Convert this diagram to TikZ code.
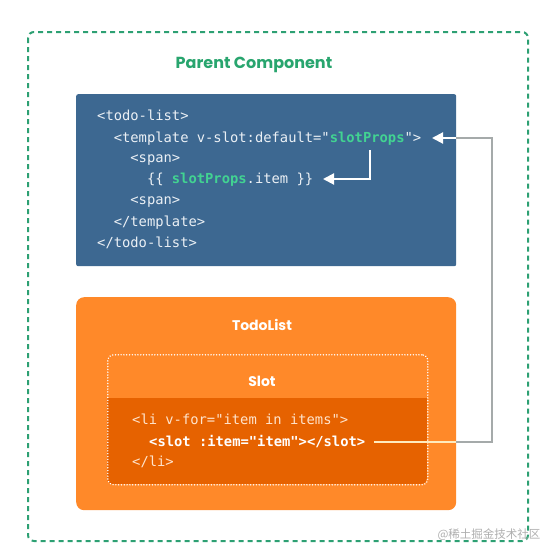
\documentclass[tikz,border=0pt]{standalone}
\usepackage{fontspec}
\setmainfont{Poppins}
\setmonofont{DejaVu Sans Mono}
\newfontfamily\cjkfont{Noto Sans CJK SC}
\usetikzlibrary{arrows.meta}
\definecolor{dashgreen}{RGB}{45,160,115}
\definecolor{titlegreen}{RGB}{40,165,110}
\definecolor{codeblue}{RGB}{61,104,145}
\definecolor{codetext}{RGB}{235,240,245}
\definecolor{propgreen}{RGB}{66,211,146}
\definecolor{orangebox}{RGB}{255,137,41}
\definecolor{darkorange}{RGB}{230,98,0}
\definecolor{orangetext}{RGB}{255,228,205}
\definecolor{connGray}{RGB}{165,170,170}
\definecolor{connLight}{RGB}{255,235,190}
\definecolor{wmgray}{RGB}{175,175,175}
\newcommand\gp[1]{\textcolor{propgreen}{\bfseries #1}}
\tikzset{
  codeline/.style={anchor=base west, inner sep=0pt, font=\ttfamily\fontsize{13.8}{16}\selectfont, text=codetext},
  orcode/.style={codeline, text=orangetext},
  tip/.style={-{Triangle[length=11pt,width=11pt]}},
  heading/.style={font=\bfseries\fontsize{14}{16}\selectfont, text=white, inner sep=0pt}
}
\begin{document}
\begin{tikzpicture}[x=1pt,y=-1pt]
\useasboundingbox (0,0) rectangle (556,557);
\fill[white] (0,0) rectangle (556,557);
% outer dashed frame
\draw[dashgreen, line width=2pt, dash pattern=on 5pt off 4pt, rounded corners=6pt] (28,32) rectangle (528,541);
\node[font=\bfseries\fontsize{16}{19}\selectfont, text=titlegreen, inner sep=0pt] (title) at (254,65) {Parent Component};
% blue code box
\node[fill=codeblue, rounded corners=2pt, minimum width=380pt, minimum height=172pt, anchor=north west, inner sep=0pt] (parent) at (76,94) {};
\node[codeline] (b1) at (97,120.5) {<todo-list>};
\node[codeline] (b2) at (113.6,142.5) {<template v-slot:default="\gp{slotProps}">};
\node[codeline] (b3) at (130.2,162.5) {<span>};
\node[codeline] (b4) at (146.8,183.5) {\{\{ \gp{slotProps}.item \}\}};
\node[codeline] (b5) at (130.2,204.5) {<span>};
\node[codeline] (b6) at (113.6,226.5) {</template>};
\node[codeline] (b7) at (97,247.5) {</todo-list>};
% orange box
\node[fill=orangebox, rounded corners=8pt, minimum width=380pt, minimum height=213pt, anchor=north west, inner sep=0pt] (todo) at (76,297) {};
\node[heading] (todotitle) at (262,325) {TodoList};
\begin{scope}
\clip[rounded corners=6pt] (107,354) rectangle (427,484);
\fill[darkorange] (107,398) rectangle (427,484);
\end{scope}
\node[draw=white, line width=1.6pt, dash pattern=on 0.01pt off 2.8pt, line cap=round, rounded corners=6pt, minimum width=320pt, minimum height=130pt, anchor=north west, inner sep=0pt] (slot) at (107,354) {};
\node[heading] (slottitle) at (262,381) {Slot};
\node[orcode] (o1) at (132,424.5) {<li v-for="item in items">};
\node[orcode, font=\ttfamily\bfseries\fontsize{13.8}{16}\selectfont, text=white] (o2) at (149,446.5) {<slot :item="item"></slot>};
\node[orcode] (o3) at (132,466.5) {</li>};
% connectors
\coordinate (p0) at (374,442);
\coordinate (p1) at (456,442);
\coordinate (p2) at (492,442);
\coordinate (p3) at (492,138);
\coordinate (p4) at (456,138);
\coordinate (p5) at (432,138);
\draw[connLight, line width=2pt] (p0) -- (p1);
\draw[connGray, line width=2pt] (p1) -- (p2) -- (p3) -- (p4);
\draw[white, line width=2pt, tip] (p4) -- (p5);
\coordinate (q0) at (370,150);
\coordinate (q1) at (370,179);
\coordinate (q2) at (323,179);
\draw[white, line width=2pt, tip] (q0) -- (q1) -- (q2);
% watermark
\node[font=\cjkfont\fontsize{11.5}{13}\selectfont, text=wmgray, inner sep=0pt] (wm) at (489,535) {@稀土掘金技术社区};
\end{tikzpicture}
\end{document}
